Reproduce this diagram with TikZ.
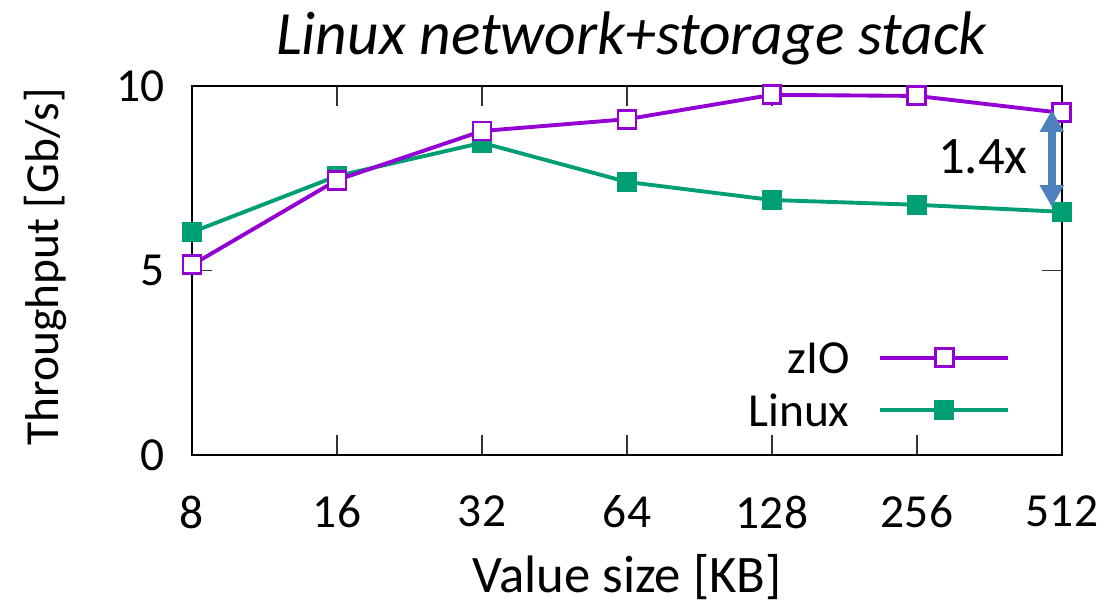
\documentclass[tikz,border=0pt]{standalone}
\usepackage{fontspec}
\setmainfont{Carlito}
\usetikzlibrary{arrows.meta,calc}

\definecolor{ziocol}{HTML}{9400D3}
\definecolor{linuxcol}{HTML}{009E73}
\definecolor{gapcol}{HTML}{4F81BD}

\tikzset{
  ticklabel/.style={inner sep=0pt, font=\fontsize{13.5}{16}\selectfont},
  ziomark/.style={draw=ziocol, line width=0.85pt, fill=white, minimum size=0.18cm, inner sep=0pt},
  linuxmark/.style={fill=linuxcol, minimum size=0.2cm, inner sep=0pt},
  zioline/.style={draw=ziocol, line width=1.1pt},
  linuxline/.style={draw=linuxcol, line width=1.1pt},
}

\begin{document}
\begin{tikzpicture}[x=1.45cm, y=0.369cm]
\useasboundingbox (-1.92cm,-1.46cm) rectangle (9.15cm,4.55cm);

% axes box and ticks
\foreach \i in {1,...,5} {
  \draw[black!80, line width=0.4pt] (\i,0) -- ++(0,0.2cm);
  \draw[black!80, line width=0.4pt] (\i,10) -- ++(0,-0.2cm);
}
\draw[black!80, line width=0.4pt] (0,5) -- ++(0.2cm,0);
\draw[black!80, line width=0.4pt] (6,5) -- ++(-0.2cm,0);
\draw[line width=0.8pt] (0,0) rectangle (6,10);

% tick labels
\foreach \v in {0,5,10}
  \node[ticklabel, anchor=east] (ylab\v) at ([xshift=-0.27cm]0,\v) {\v};
\foreach \i/\s in {0/8,1/16,2/32,3/64,4/128,5/256,6/512}
  \node[ticklabel, anchor=north] (xlab\i) at ([yshift=-0.4cm]\i,0) {\s};

% axis labels and title
\node[ticklabel, rotate=90] (ytitle) at (-1.01,5.1) {Throughput [Gb/s]};
\node[ticklabel, font=\fontsize{15}{18}\selectfont] (xtitle) at (3,-3.3) {Value size [KB]};
\node[inner sep=0pt, font=\fontsize{17.5}{20}\selectfont\itshape] (title) at (3.03,11.3) {Linux network+storage stack};

% data
\foreach \i/\v in {0/5.15,1/7.45,2/8.78,3/9.10,4/9.76,5/9.73,6/9.27}
  \coordinate (z\i) at (\i,\v);
\foreach \i/\v in {0/6.04,1/7.56,2/8.46,3/7.40,4/6.91,5/6.78,6/6.59}
  \coordinate (l\i) at (\i,\v);

\draw[linuxline] (l0) -- (l1) -- (l2) -- (l3) -- (l4) -- (l5) -- (l6);
\draw[zioline] (z0) -- (z1) -- (z2) -- (z3) -- (z4) -- (z5) -- (z6);
\foreach \i in {0,...,6} {
  \node[linuxmark] (lm\i) at (l\i) {};
  \node[ziomark] (zm\i) at (z\i) {};
}

% legend
\node[ticklabel, anchor=east] (legzio) at (4.54,2.63) {zIO};
\node[ticklabel, anchor=east] (leglinux) at (4.54,1.22) {Linux};
\coordinate (zioa) at (4.745,2.63);
\coordinate (ziob) at (5.63,2.63);
\coordinate (linuxa) at (4.745,1.22);
\coordinate (linuxb) at (5.63,1.22);
\draw[zioline] (zioa) -- (ziob);
\draw[linuxline] (linuxa) -- (linuxb);
\node[ziomark] (legzm) at ($(zioa)!0.5!(ziob)$) {};
\node[linuxmark] (leglm) at ($(linuxa)!0.5!(linuxb)$) {};

% gap arrow
\coordinate (gaptop) at (5.93,9.35);
\coordinate (gapbot) at (5.93,6.72);
\draw[gapcol, line width=0.08cm, {Triangle[width=0.23cm,length=0.22cm]}-{Triangle[width=0.23cm,length=0.22cm]}] (gaptop) -- (gapbot);
\node[inner sep=0pt, font=\fontsize{15}{18}\selectfont] (gaplabel) at (5.455,8.08) {1.4x};

\end{tikzpicture}
\end{document}
